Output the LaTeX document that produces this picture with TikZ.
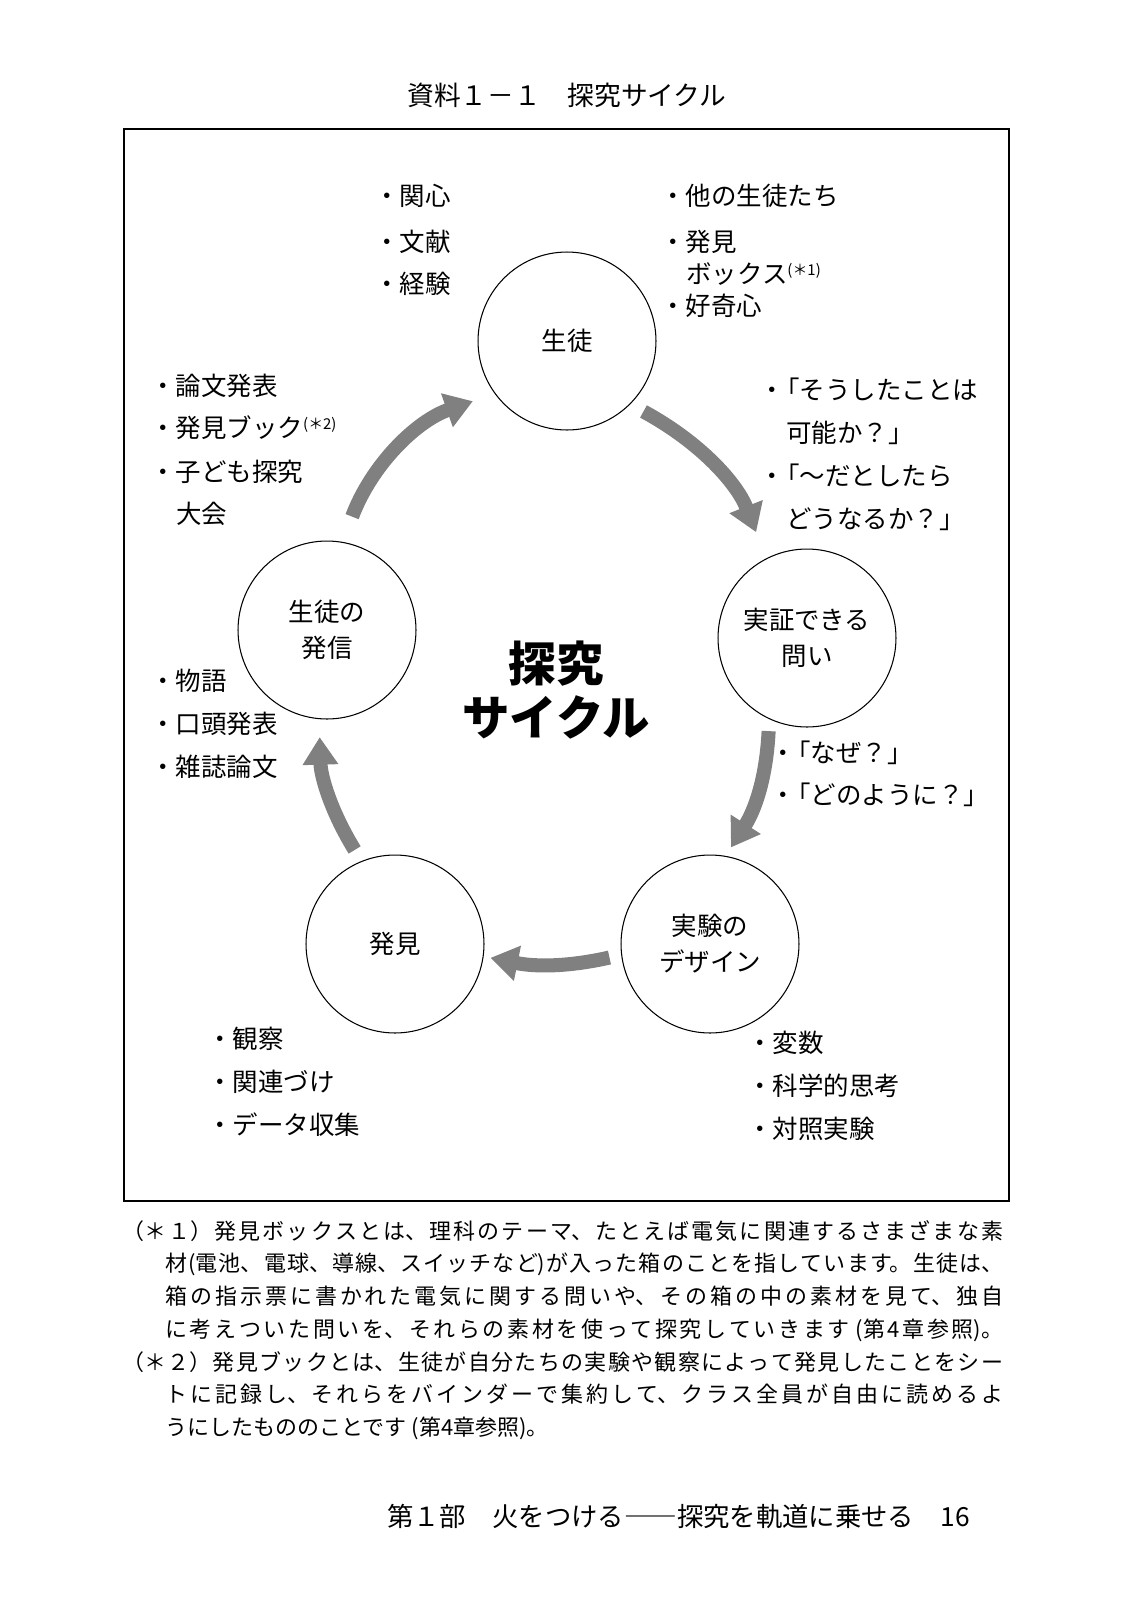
\documentclass[tikz,border=0pt]{standalone}
\usepackage{fontspec}
\setmainfont{Noto Sans CJK JP}
\usetikzlibrary{arrows.meta,positioning}
\XeTeXlinebreaklocale "ja"
\XeTeXlinebreakskip=0pt plus 4pt
\newcommand{\bulq}{\makebox[0.2em]{・}}
\newcommand{\chu}[1]{\raisebox{0.6ex}{\fontsize{8.5}{9}\selectfont(＊#1)}}

\begin{document}
\begin{tikzpicture}[x=0.02cm,y=-0.02cm,
 stage/.style={draw,circle,minimum size=3.56cm,inner sep=0pt,line width=0.6pt,align=center,font=\fontsize{14.5}{20.5}\selectfont},
 item/.style={anchor=west,inner sep=0pt,font=\fontsize{14.5}{17}\selectfont},
 cyc/.style={draw=black!50,line width=8pt,-{Triangle[length=0.55cm,width=0.68cm]}},
 note/.style={anchor=north west,inner sep=0pt,text width=17.62cm,align=justify,font=\fontsize{12.5}{18.6}\selectfont}]
\useasboundingbox[fill=white] (0,0) rectangle (1125,1600);

\node[font=\fontsize{15.2}{18}\selectfont] (title) at (567,95) {資料１－１　探究サイクル};
\draw[line width=0.8pt] (124,129) rectangle (1009,1201);

% the five stages
\node[stage] (st) at (567,341) {生徒};
\node[stage] (q) at (807,638) {実証できる\\問い};
\node[stage] (ex) at (710,944) {実験の\\デザイン};
\node[stage] (fd) at (395,944) {発見};
\node[stage] (pub) at (327,630) {生徒の\\発信};

\draw[cyc,shorten <=0.3cm,shorten >=0.56cm] (st.-45) to[bend left=20] (q.117);
\draw[cyc,shorten <=0.24cm,shorten >=0.2cm] (q.245) to[bend left=15] (ex.80);
\draw[cyc,shorten <=0.24cm,shorten >=0.14cm] (ex.187) to[bend left=12] (fd.352);
\draw[cyc,shorten <=0.26cm,shorten >=0.36cm] (fd.112) to[bend left=15] (pub.265);
\draw[cyc,shorten <=0.54cm,shorten >=0.46cm] (pub.80) to[bend left=25] (st.216);

\node[font=\bfseries\fontsize{27}{31}\selectfont,align=center] (mid) at (556,690) {探究\\サイクル};

% lists round the cycle
\node[item] (a1) at (374,196) {・関心};
\node[item] (a2) at (374,242) {・文献};
\node[item] (a3) at (374,284) {・経験};

\node[item] (b1) at (660,196) {・他の生徒たち};
\node[item] (b2) at (660,242) {・発見};
\node[item] (b3) at (686,274) {ボックス\chu{1}};
\node[item] (b4) at (660,306) {・好奇心};

\node[item] (c1) at (769,389) {\bulq「そうしたことは};
\node[item] (c2) at (786,433) {可能か？」};
\node[item] (c3) at (769,476) {\bulq「～だとしたら};
\node[item] (c4) at (786,519) {どうなるか？」};

\node[item] (d1) at (780,753) {\bulq「なぜ？」};
\node[item] (d2) at (780,795) {\bulq「どのように？」};

\node[item] (e1) at (747,1043) {・変数};
\node[item] (e2) at (747,1086) {・科学的思考};
\node[item] (e3) at (747,1129) {・対照実験};

\node[item] (f1) at (207,1039) {・観察};
\node[item] (f2) at (207,1082) {・関連づけ};
\node[item] (f3) at (207,1125) {・データ収集};

\node[item] (g1) at (150,681) {・物語};
\node[item] (g2) at (150,724) {・口頭発表};
\node[item] (g3) at (150,767) {・雑誌論文};

\node[item] (h1) at (150,386) {・論文発表};
\node[item] (h2) at (150,428) {・発見ブック\chu{2}};
\node[item] (h3) at (150,472) {・子ども探究};
\node[item] (h4) at (176,514) {大会};

% notes under the frame
\node[note] (n1) at (122,1220) {（＊１）\hangindent=0.86cm\hangafter=1\parfillskip=0pt 発見ボックスとは、理科のテーマ、たとえば電気に関連するさまざまな素\linebreak 材(電池、電球、導線、スイッチなど)が入った箱のことを指しています。生徒は、\linebreak 箱の指示票に書かれた電気に関する問いや、その箱の中の素材を見て、独自\linebreak に考えついた問いを、それらの素材を使って探究していきます (第4章参照)。\par};
\node[note] (n2) at (122,1351) {（＊２）\hangindent=0.86cm\hangafter=1 発見ブックとは、生徒が自分たちの実験や観察によって発見したことをシー\linebreak トに記録し、それらをバインダーで集約して、クラス全員が自由に読めるよ\linebreak うにしたもののことです (第4章参照)。\par};

\node[anchor=east,font=\fontsize{15}{18}\selectfont] (foot) at (976,1516) {第１部　火をつける――探究を軌道に乗せる　16};
\end{tikzpicture}
\end{document}
